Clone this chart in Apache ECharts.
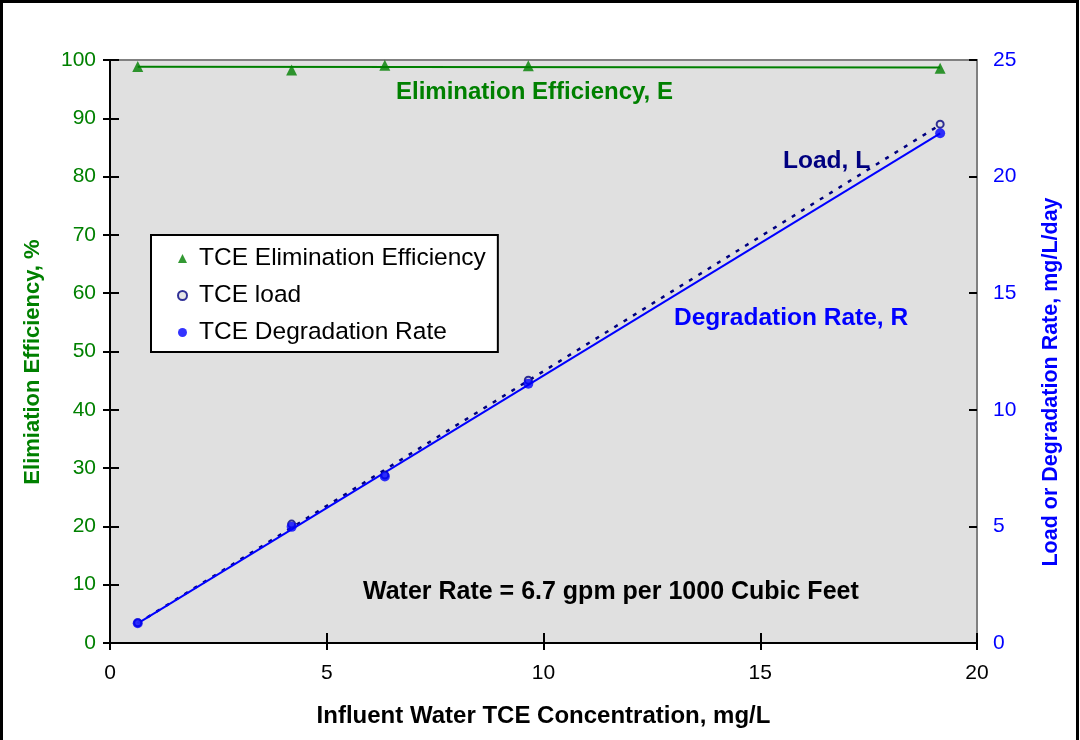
<!DOCTYPE html>
<html>
<head>
<meta charset="utf-8">
<title>TCE elimination</title>
<script src="https://cdn.jsdelivr.net/npm/echarts@6/dist/echarts.min.js"></script>
<style>
  html, body { margin: 0; padding: 0; background: #fff; }
  #chart { width: 1080px; height: 740px; }
</style>
</head>
<body>
<div id="chart"></div>
<script>
// influent TCE concentration, mg/L
const concentration = [0.64, 4.19, 6.34, 9.65, 19.15];
// elimination efficiency, %
const efficiency = [98.9, 98.3, 99.1, 99.0, 98.6];
// load, mg/L/day
const load = [0.87, 5.10, 7.20, 11.27, 22.25];
// degradation rate, mg/L/day
const degradation = [0.85, 4.98, 7.14, 11.12, 21.86];

const xTicks = [0, 5, 10, 15, 20];
const leftTicks = [0, 10, 20, 30, 40, 50, 60, 70, 80, 90, 100];
const rightTicks = [0, 5, 10, 15, 20, 25];

const FONT = "'Liberation Sans', Arial, sans-serif";
const GREEN = '#008000';
const NAVY = '#000080';
const BLUE = '#0000ff';

function pairs(xs, ys) {
  return xs.map((x, i) => [x, ys[i]]);
}

// least squares trendline, drawn from first to last x
function trend(xs, ys) {
  const n = xs.length;
  let sx = 0, sy = 0, sxx = 0, sxy = 0;
  for (let i = 0; i < n; i++) {
    sx += xs[i]; sy += ys[i]; sxx += xs[i] * xs[i]; sxy += xs[i] * ys[i];
  }
  const b = (n * sxy - sx * sy) / (n * sxx - sx * sx);
  const a = (sy - b * sx) / n;
  const x0 = Math.min(...xs), x1 = Math.max(...xs);
  return [[x0, a + b * x0], [x1, a + b * x1]];
}

const chart = echarts.init(document.getElementById('chart'));

const tickLabel = { fontFamily: FONT, fontSize: 21 };

chart.setOption({
  animation: false,
  textStyle: { fontFamily: FONT },
  grid: {
    left: 110, right: 103, top: 60, bottom: 97,
    show: true,
    backgroundColor: '#e0e0e0',
    borderColor: '#808080',
    borderWidth: 2
  },
  legend: {
    orient: 'vertical',
    left: 151,
    top: 235,
    padding: [11, 12, 7, 26],
    itemGap: 12,
    itemWidth: 9,
    itemHeight: 9,
    backgroundColor: '#fff',
    borderColor: '#000',
    borderWidth: 2,
    borderRadius: 0,
    textStyle: { fontFamily: FONT, fontSize: 24.5, color: '#000', padding: [0, 0, 0, 7] },
    data: [
      { name: 'TCE Elimination Efficiency', icon: 'triangle' },
      { name: 'TCE load', icon: 'circle' },
      { name: 'TCE Degradation Rate', icon: 'circle' }
    ]
  },
  xAxis: [
    {
      type: 'value', min: 0, max: 20, interval: 5,
      name: 'Influent Water TCE Concentration, mg/L',
      nameLocation: 'middle',
      nameGap: 61,
      nameTextStyle: { fontFamily: FONT, fontSize: 24, fontWeight: 'bold', color: '#000' },
      axisLine: { show: true, lineStyle: { color: '#000', width: 2 } },
      axisTick: { show: true, length: 7, lineStyle: { color: '#000', width: 2 } },
      axisLabel: Object.assign({ color: '#000', margin: 20,
        formatter: v => xTicks.includes(v) ? String(v) : '' }, tickLabel),
      splitLine: { show: false }
    },
    {
      // inner half of the crossing ticks
      type: 'value', min: 0, max: 20, interval: 5, position: 'bottom',
      axisLine: { show: false },
      axisTick: { show: true, inside: true, length: 10, lineStyle: { color: '#000', width: 2 } },
      axisLabel: { show: false },
      splitLine: { show: false }
    }
  ],
  yAxis: [
    {
      type: 'value', min: 0, max: 100, interval: 10, position: 'left',
      axisLine: { show: true, lineStyle: { color: '#000', width: 2 } },
      axisTick: { show: true, length: 7, lineStyle: { color: '#000', width: 2 } },
      axisLabel: Object.assign({ color: GREEN, margin: 14,
        formatter: v => leftTicks.includes(v) ? String(v) : '' }, tickLabel),
      splitLine: { show: false }
    },
    {
      type: 'value', min: 0, max: 25, interval: 5, position: 'right',
      axisLine: { show: true, lineStyle: { color: '#000', width: 2 } },
      axisTick: { show: true, length: 7, lineStyle: { color: '#000', width: 2 } },
      axisLabel: Object.assign({ color: BLUE, margin: 16,
        formatter: v => rightTicks.includes(v) ? String(v) : '' }, tickLabel),
      splitLine: { show: false }
    },
    {
      type: 'value', min: 0, max: 100, interval: 10, position: 'left',
      axisLine: { show: false },
      axisTick: { show: true, inside: true, length: 9, lineStyle: { color: '#000', width: 2 } },
      axisLabel: { show: false },
      splitLine: { show: false }
    },
    {
      type: 'value', min: 0, max: 25, interval: 5, position: 'right',
      axisLine: { show: false },
      axisTick: { show: true, inside: true, length: 8, lineStyle: { color: '#000', width: 2 } },
      axisLabel: { show: false },
      splitLine: { show: false }
    }
  ],
  series: [
    {
      name: 'Efficiency trend',
      type: 'line',
      yAxisIndex: 0,
      data: trend(concentration, efficiency),
      symbol: 'none',
      lineStyle: { color: GREEN, width: 2 },
      z: 2
    },
    {
      name: 'Load trend',
      type: 'line',
      yAxisIndex: 1,
      data: trend(concentration, load),
      symbol: 'none',
      lineStyle: { color: NAVY, width: 2.5, type: [4, 7] },
      z: 2
    },
    {
      name: 'Degradation trend',
      type: 'line',
      yAxisIndex: 1,
      data: trend(concentration, degradation),
      symbol: 'none',
      lineStyle: { color: BLUE, width: 2 },
      z: 3
    },
    {
      name: 'TCE Elimination Efficiency',
      type: 'scatter',
      yAxisIndex: 0,
      data: pairs(concentration, efficiency),
      symbol: 'triangle',
      symbolSize: 11,
      itemStyle: { color: GREEN },
      z: 4
    },
    {
      name: 'TCE load',
      type: 'scatter',
      yAxisIndex: 1,
      data: pairs(concentration, load),
      symbol: 'circle',
      symbolSize: 7,
      itemStyle: { color: '#e0e0e0', borderColor: NAVY, borderWidth: 2 },
      z: 4
    },
    {
      name: 'TCE Degradation Rate',
      type: 'scatter',
      yAxisIndex: 1,
      data: pairs(concentration, degradation),
      symbol: 'circle',
      symbolSize: 10,
      itemStyle: { color: BLUE },
      z: 5
    }
  ],
  graphic: [
    {
      type: 'rect',
      shape: { x: 1.5, y: 1.5, width: 1076, height: 760 },
      style: { fill: 'none', stroke: '#000', lineWidth: 3 },
      silent: true
    },
    {
      // left axis title
      type: 'text', x: 33, y: 362, rotation: Math.PI / 2,
      style: { text: 'Elimiation Efficiency, %', fill: GREEN, font: 'bold 22px ' + FONT,
        align: 'center', verticalAlign: 'middle' }
    },
    {
      // right axis title
      type: 'text', x: 1051, y: 382, rotation: Math.PI / 2,
      style: { text: 'Load or Degradation Rate, mg/L/day', fill: BLUE, font: 'bold 21.5px ' + FONT,
        align: 'center', verticalAlign: 'middle' }
    },
    {
      type: 'text', left: 396, top: 80,
      style: { text: 'Elimination Efficiency, E', fill: GREEN, font: 'bold 24px ' + FONT }
    },
    {
      type: 'text', left: 783, top: 149,
      style: { text: 'Load, L', fill: NAVY, font: 'bold 24.5px ' + FONT }
    },
    {
      type: 'text', left: 674, top: 306,
      style: { text: 'Degradation Rate, R', fill: BLUE, font: 'bold 24.5px ' + FONT }
    },
    {
      type: 'text', left: 363, top: 580,
      style: { text: 'Water Rate = 6.7 gpm per 1000 Cubic Feet', fill: '#000', font: 'bold 25px ' + FONT }
    }
  ]
});
</script>
</body>
</html>
